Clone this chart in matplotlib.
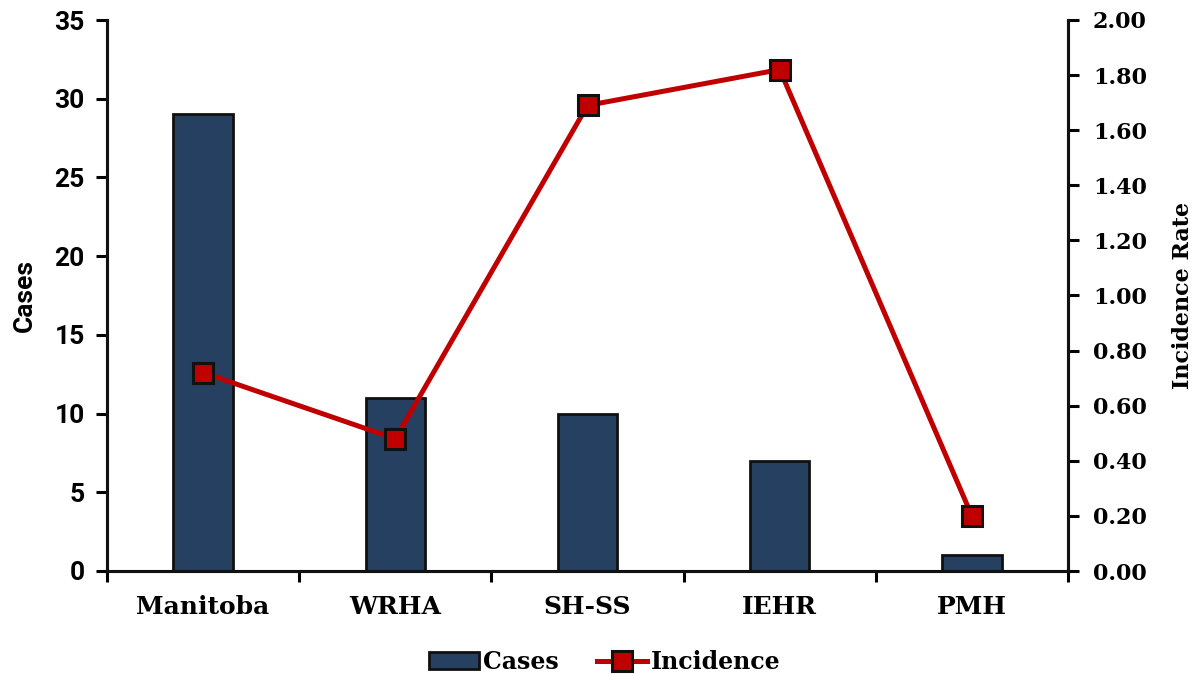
import matplotlib
matplotlib.use('Agg')
import matplotlib.pyplot as plt
import numpy as np
from matplotlib.ticker import FixedLocator, FormatStrFormatter

# data
regions = ['Manitoba', 'WRHA', 'SH-SS', 'IEHR', 'PMH']
cases = [29, 11, 10, 7, 1]
incidence = [0.72, 0.48, 1.69, 1.82, 0.20]

bar_color = '#264061'
line_color = '#C00000'
serif = ['DejaVu Serif']
sans = ['Roboto', 'DejaVu Sans']

fig = plt.figure(figsize=(11.98, 6.74), dpi=100)
ax1 = fig.add_axes([107/1198, 1-571/674, (1068-107)/1198, (571-20)/674])
ax2 = ax1.twinx()

x = np.arange(len(regions))
bars = ax1.bar(x, cases, width=0.31, color=bar_color, edgecolor='#111111',
               linewidth=2, label='Cases', zorder=2)
line, = ax2.plot(x, incidence, color=line_color, lw=3.6, marker='s', ms=14,
                 mfc=line_color, mec='#111111', mew=2.2, label='Incidence', zorder=3)

ax1.set_xlim(-0.5, len(regions)-0.5)
ax1.set_ylim(0, 35)
ax1.set_yticks(np.arange(0, 36, 5))
ax2.set_ylim(0, 2.0)
ax2.set_yticks(np.arange(0, 2.01, 0.2))
ax2.yaxis.set_major_formatter(FormatStrFormatter('%.2f'))

ax1.set_xticks(x)
ax1.set_xticklabels(regions, fontfamily=serif, fontweight='bold', fontsize=18)
ax1.xaxis.set_minor_locator(FixedLocator(np.arange(-0.5, len(regions), 1.0)))
ax1.tick_params(axis='x', which='major', length=0, pad=17)
ax1.tick_params(axis='x', which='minor', length=8, width=2.2, direction='out')

for lab in ax1.get_yticklabels():
    lab.set_fontfamily(sans)
    lab.set_fontweight('bold')
    lab.set_fontsize(19)
for lab in ax2.get_yticklabels():
    lab.set_fontfamily(serif)
    lab.set_fontweight('bold')
    lab.set_fontsize(16)
ax1.tick_params(axis='y', length=8, width=2.2, direction='out', pad=8)
ax2.tick_params(axis='y', length=8, width=2.2, direction='out', pad=10)

ax1.set_ylabel('Cases', fontfamily=sans, fontweight='bold', fontsize=19, labelpad=13)
ax2.set_ylabel('Incidence Rate', fontfamily=serif, fontweight='bold', fontsize=16, labelpad=18)

for a in (ax1, ax2):
    a.spines['top'].set_visible(False)
    for s in ('left', 'right', 'bottom'):
        a.spines[s].set_linewidth(2.2)
        a.spines[s].set_color('#111111')

leg = fig.legend([bars, line], ['Cases', 'Incidence'], loc='center',
                 bbox_to_anchor=(0.505, 1-662/674), ncol=2, frameon=False,
                 prop={'family': serif, 'weight': 'bold', 'size': 17},
                 handlelength=2.1, handletextpad=0.2, columnspacing=1.6)

fig.savefig('out.png', dpi=100)
